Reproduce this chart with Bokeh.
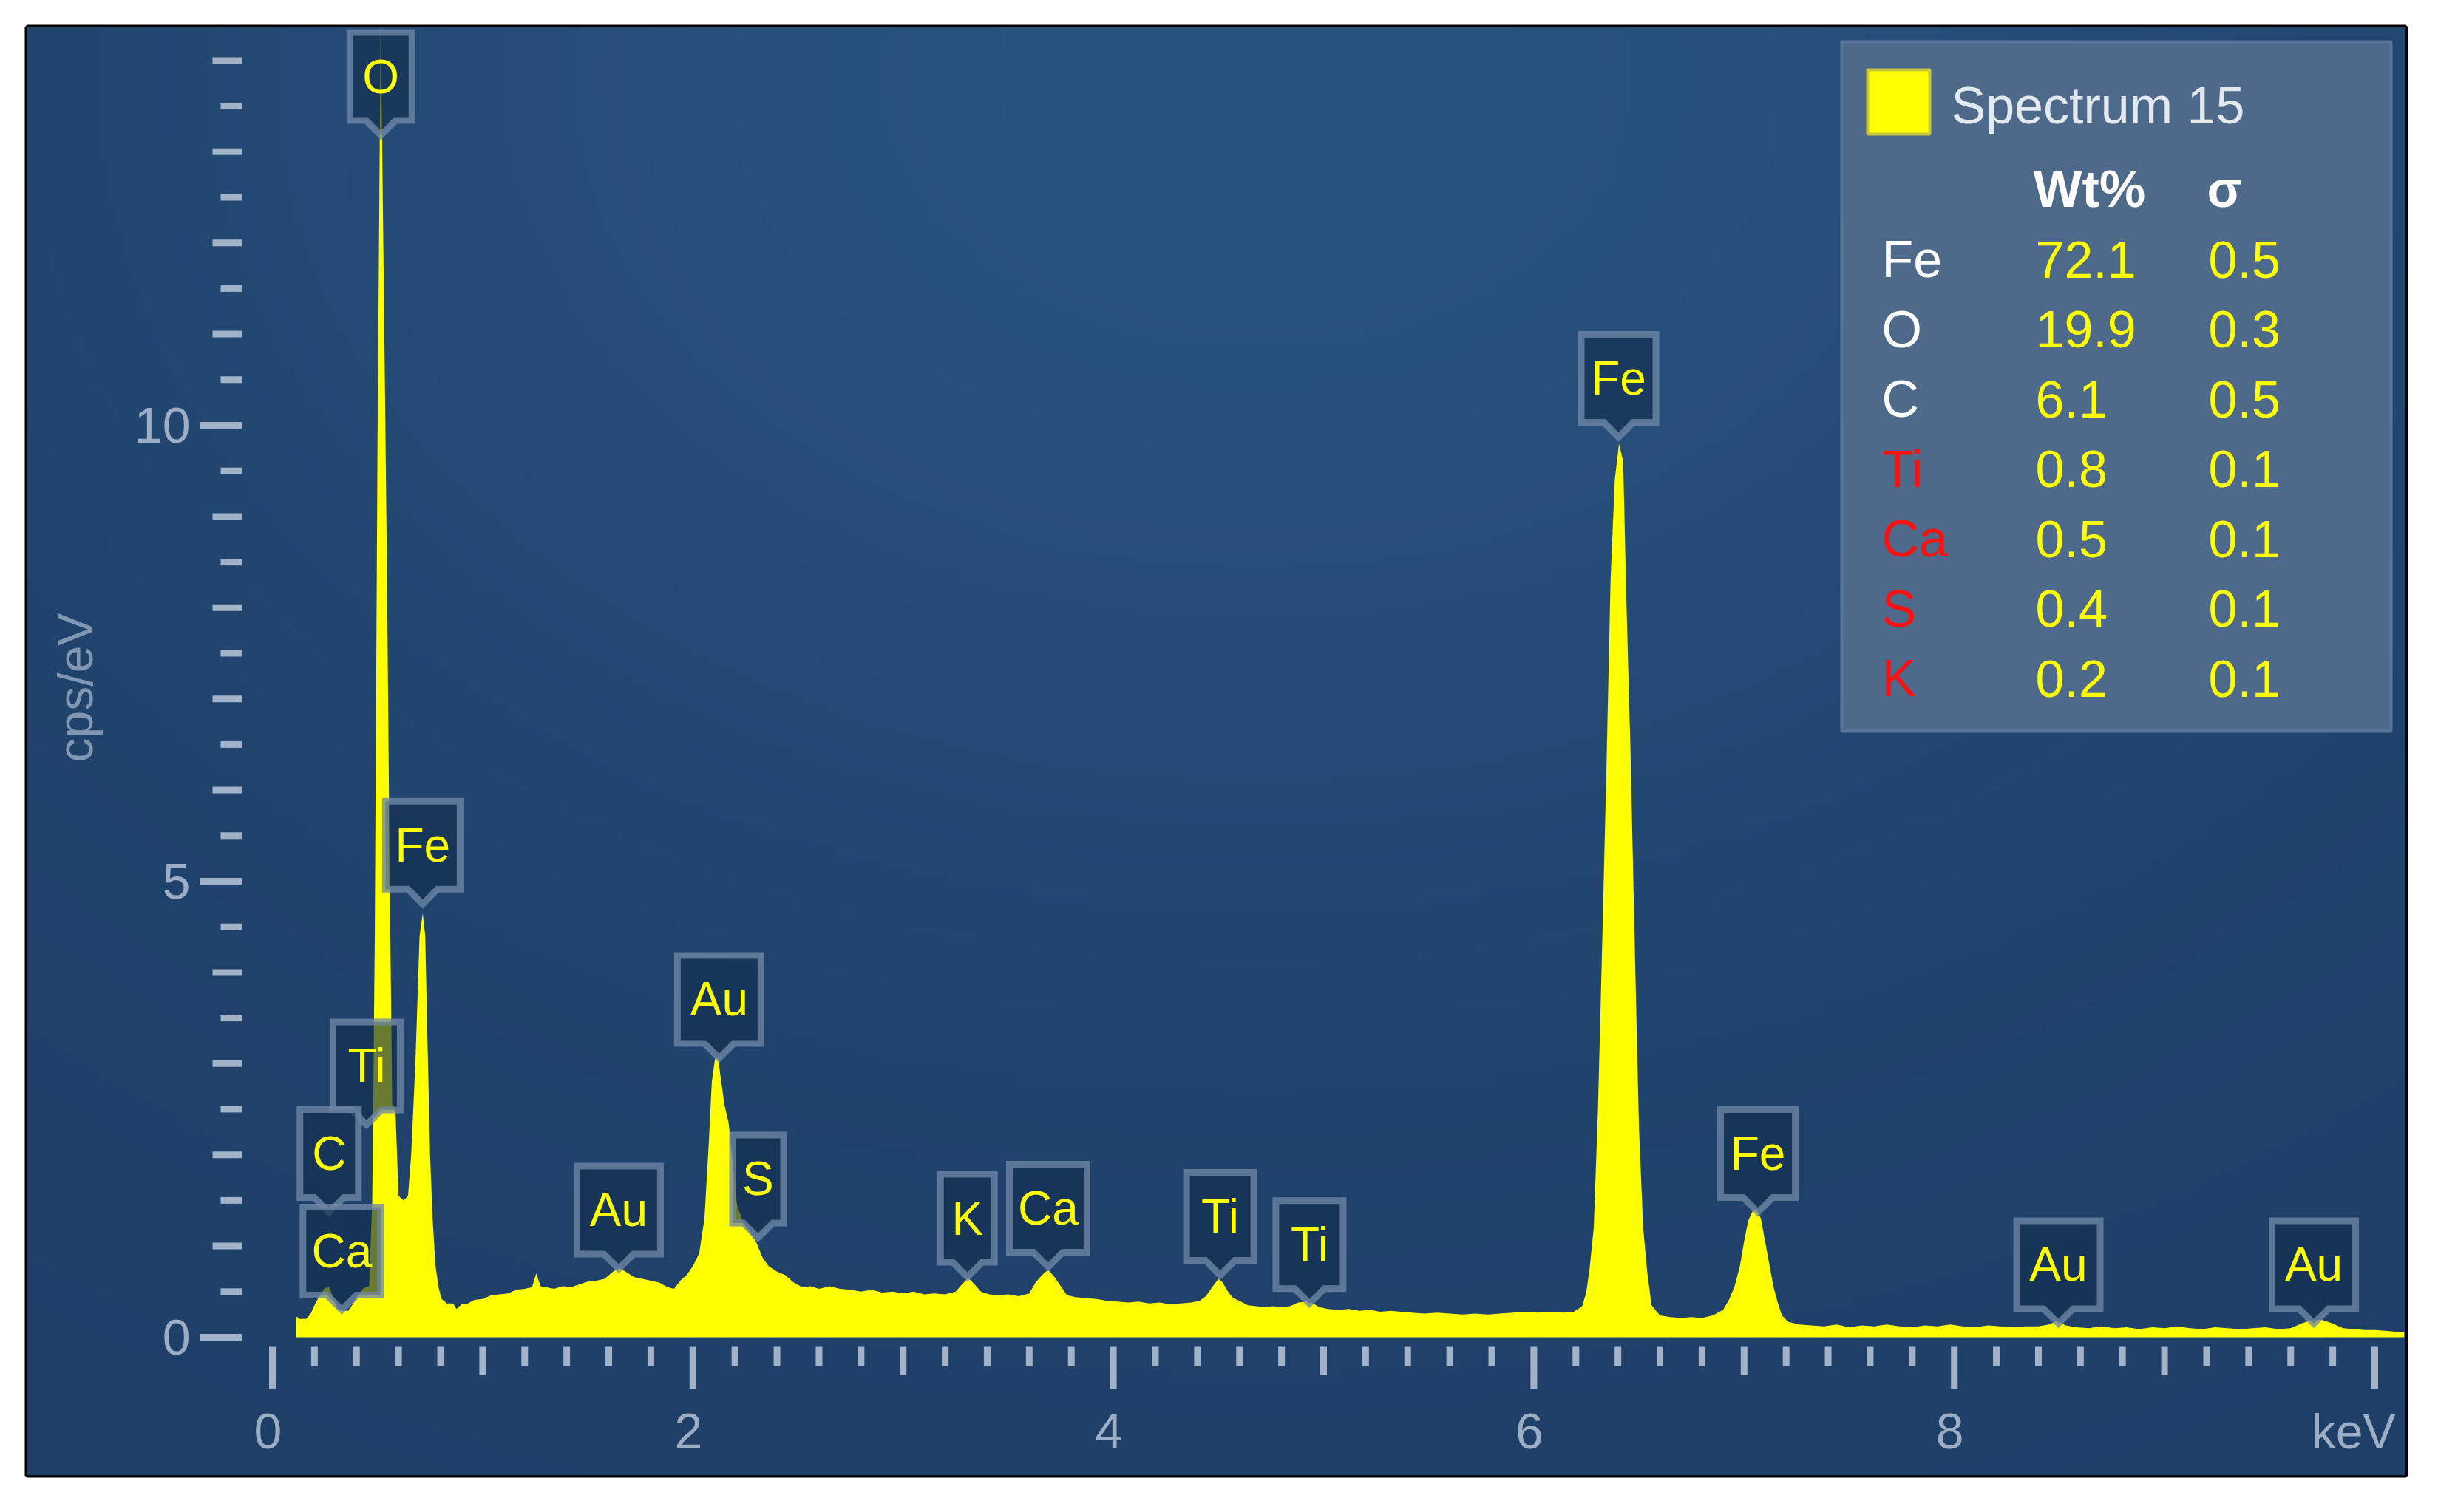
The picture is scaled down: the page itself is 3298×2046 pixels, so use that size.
import numpy as np
from bokeh.plotting import figure
from bokeh.models import Range1d
from bokeh.core.properties import value
from bokeh.embed import file_html
from bokeh.resources import INLINE

# ---------------- data ----------------
ENERGY_KEV = [
    0.112, 0.130, 0.160, 0.180, 0.200, 0.225, 0.250, 0.270, 0.290, 0.310,
    0.335, 0.360, 0.385, 0.410, 0.435, 0.460, 0.475, 0.487, 0.500, 0.515,
    0.530, 0.545, 0.558, 0.570, 0.585, 0.600, 0.625, 0.645, 0.660, 0.680,
    0.700, 0.715, 0.727, 0.738, 0.750, 0.762, 0.775, 0.790, 0.805, 0.830,
    0.860, 0.875, 0.900, 0.930, 0.960, 1.000, 1.040, 1.080, 1.120, 1.160,
    1.200, 1.235, 1.255, 1.275, 1.300, 1.340, 1.380, 1.420, 1.460, 1.500,
    1.540, 1.580, 1.620, 1.650, 1.680, 1.720, 1.760, 1.800, 1.840, 1.880,
    1.910, 1.940, 1.970, 2.000, 2.030, 2.055, 2.075, 2.090, 2.105, 2.120,
    2.135, 2.150, 2.170, 2.190, 2.210, 2.240, 2.270, 2.300, 2.330, 2.360,
    2.400, 2.440, 2.480, 2.520, 2.560, 2.600, 2.650, 2.700, 2.750, 2.800,
    2.850, 2.900, 2.950, 3.000, 3.050, 3.100, 3.150, 3.200, 3.250, 3.280,
    3.310, 3.340, 3.370, 3.410, 3.450, 3.500, 3.550, 3.600, 3.630, 3.660,
    3.690, 3.720, 3.750, 3.780, 3.820, 3.870, 3.920, 3.970, 4.020, 4.070,
    4.120, 4.170, 4.220, 4.270, 4.320, 4.370, 4.410, 4.440, 4.470, 4.500,
    4.520, 4.545, 4.570, 4.600, 4.640, 4.680, 4.720, 4.760, 4.800, 4.840,
    4.880, 4.920, 4.950, 4.980, 5.020, 5.070, 5.120, 5.170, 5.220, 5.270,
    5.320, 5.370, 5.420, 5.480, 5.540, 5.600, 5.660, 5.720, 5.780, 5.840,
    5.900, 5.960, 6.020, 6.080, 6.140, 6.190, 6.230, 6.250, 6.265, 6.285,
    6.305, 6.325, 6.345, 6.365, 6.385, 6.405, 6.425, 6.440, 6.460, 6.480,
    6.500, 6.520, 6.540, 6.560, 6.600, 6.650, 6.700, 6.750, 6.800, 6.850,
    6.900, 6.930, 6.955, 6.980, 7.000, 7.020, 7.040, 7.060, 7.080, 7.100,
    7.120, 7.140, 7.160, 7.180, 7.210, 7.260, 7.320, 7.380, 7.440, 7.500,
    7.560, 7.620, 7.680, 7.740, 7.800, 7.860, 7.920, 7.980, 8.040, 8.100,
    8.160, 8.220, 8.280, 8.340, 8.400, 8.450, 8.490, 8.530, 8.580, 8.640,
    8.700, 8.760, 8.820, 8.880, 8.940, 9.000, 9.060, 9.120, 9.180, 9.240,
    9.300, 9.360, 9.420, 9.480, 9.540, 9.600, 9.650, 9.700, 9.750, 9.800,
    9.850, 9.900, 9.950, 10.000, 10.050, 10.100, 10.140,
]

COUNTS_CPS = [
    0.23, 0.20, 0.20, 0.25, 0.35, 0.46, 0.54, 0.55, 0.43, 0.31,
    0.29, 0.29, 0.37, 0.47, 0.54, 0.56, 1.50, 4.40, 9.80, 14.50,
    11.50, 8.40, 5.00, 2.55, 2.50, 1.55, 1.50, 1.55, 2.00, 3.00,
    4.40, 4.65, 4.40, 3.20, 2.00, 1.30, 0.80, 0.55, 0.42, 0.37,
    0.37, 0.31, 0.36, 0.37, 0.41, 0.42, 0.46, 0.47, 0.48, 0.52,
    0.53, 0.55, 0.70, 0.56, 0.55, 0.53, 0.56, 0.55, 0.58, 0.61,
    0.62, 0.64, 0.72, 0.76, 0.72, 0.66, 0.64, 0.62, 0.60, 0.55,
    0.53, 0.62, 0.68, 0.78, 0.92, 1.30, 2.10, 2.80, 3.05, 3.06,
    2.80, 2.55, 2.35, 1.90, 1.45, 1.25, 1.15, 1.05, 0.88, 0.78,
    0.72, 0.68, 0.60, 0.55, 0.56, 0.53, 0.56, 0.53, 0.52, 0.50,
    0.52, 0.49, 0.50, 0.48, 0.50, 0.47, 0.48, 0.47, 0.50, 0.58,
    0.65, 0.58, 0.50, 0.47, 0.46, 0.47, 0.45, 0.48, 0.60, 0.68,
    0.74, 0.66, 0.56, 0.46, 0.44, 0.43, 0.42, 0.40, 0.39, 0.38,
    0.39, 0.37, 0.38, 0.36, 0.37, 0.38, 0.40, 0.45, 0.55, 0.64,
    0.60, 0.50, 0.43, 0.40, 0.35, 0.34, 0.33, 0.34, 0.33, 0.34,
    0.38, 0.39, 0.37, 0.33, 0.31, 0.30, 0.31, 0.29, 0.30, 0.28,
    0.29, 0.28, 0.27, 0.26, 0.27, 0.26, 0.25, 0.26, 0.25, 0.26,
    0.27, 0.28, 0.27, 0.28, 0.27, 0.28, 0.34, 0.50, 0.75, 1.20,
    2.50, 4.30, 6.20, 8.30, 9.40, 9.80, 9.60, 8.10, 6.40, 4.30,
    2.30, 1.20, 0.70, 0.35, 0.24, 0.22, 0.21, 0.22, 0.21, 0.24,
    0.30, 0.42, 0.56, 0.78, 1.05, 1.28, 1.38, 1.40, 1.30, 1.05,
    0.80, 0.55, 0.38, 0.24, 0.17, 0.14, 0.13, 0.12, 0.14, 0.11,
    0.13, 0.12, 0.14, 0.12, 0.11, 0.13, 0.12, 0.14, 0.12, 0.11,
    0.13, 0.12, 0.11, 0.12, 0.12, 0.14, 0.18, 0.13, 0.11, 0.10,
    0.12, 0.10, 0.11, 0.09, 0.11, 0.10, 0.12, 0.10, 0.09, 0.11,
    0.10, 0.09, 0.10, 0.11, 0.09, 0.10, 0.15, 0.19, 0.19, 0.15,
    0.10, 0.09, 0.08, 0.08, 0.07, 0.06, 0.06,
]

# peak markers: element, energy (keV), height of the pointer tip (cps)
PEAK_ELEMENTS = ["O", "Fe", "Ti", "C", "Ca", "Au", "Au", "S", "K", "Ca",
                 "Ti", "Ti", "Fe", "Fe", "Au", "Au"]
PEAK_ENERGY = [0.516, 0.715, 0.448, 0.270, 0.330, 1.647, 2.125, 2.310, 3.306, 3.690,
               4.508, 4.933, 6.403, 7.066, 8.495, 9.710]
PEAK_TIP_CPS = [13.18, 4.75, 2.33, 1.37, 0.30, 0.75, 3.06, 1.09, 0.66, 0.77,
                0.68, 0.37, 9.87, 1.37, 0.15, 0.15]

SPECTRUM_NAME = "Spectrum 15"
TABLE_HEADER = ["Wt%", "σ"]
TABLE_ELEMENTS = ["Fe", "O", "C", "Ti", "Ca", "S", "K"]
TABLE_WT = ["72.1", "19.9", "6.1", "0.8", "0.5", "0.4", "0.2"]
TABLE_SIGMA = ["0.5", "0.3", "0.5", "0.1", "0.1", "0.1", "0.1"]

X_LABEL_TICKS = [0, 2, 4, 6, 8]
X_TICK_LABELS = ["0", "2", "4", "6", "8"]
Y_LABEL_TICKS = [0, 5, 10]
Y_TICK_LABELS = ["0", "5", "10"]
X_UNIT = "keV"
Y_UNIT = "cps/eV"

# ---------------- styles / layout ----------------
FONT = "Liberation Sans"
YELLOW = "#ffff00"
TICK_COLOR = "#a2b3c9"
LABEL_COLOR = "#9cadc4"
NAME_COLORS = ["#ffffff", "#ffffff", "#ffffff", "#ff1010", "#ff1010", "#ff1010", "#ff1010"]
BOX_WIDTH_PX = {"O": 93, "C": 88, "S": 78, "K": 82, "Ti": 100, "Fe": 110, "Ca": 114, "Au": 122}

X0_PX, PX_PER_KEV = 368.0, 284.4     # pixel of 0 keV, pixels per keV
Y0_PX, PX_PER_CPS = 1809.0, 123.4    # pixel of 0 cps/eV, pixels per cps/eV


def kx(px):
    return (px - X0_PX) / PX_PER_KEV


def cy(py):
    return (Y0_PX - py) / PX_PER_CPS


def dkx(d):
    return d / PX_PER_KEV


def dcy(d):
    return d / PX_PER_CPS


FRAME_L, FRAME_R, FRAME_T, FRAME_B = 36, 3254, 36, 1996
W, H = 3296, 2044

p = figure(width=W, height=H, output_backend="svg", toolbar_location=None, title=None,
           x_range=Range1d(kx(FRAME_L), kx(FRAME_R)),
           y_range=Range1d(cy(FRAME_B), cy(FRAME_T)),
           x_axis_location=None, y_axis_location=None,
           min_border_left=FRAME_L, min_border_top=FRAME_T,
           min_border_right=W - FRAME_R, min_border_bottom=H - FRAME_B)
p.grid.visible = False
p.background_fill_color = "#20426b"
p.border_fill_color = "white"
p.outline_line_color = "black"
p.outline_line_width = 6

# subtle background sheen
ny, nx = 205, 322
gx = np.linspace(FRAME_L, FRAME_R, nx)
gy = np.linspace(FRAME_B, FRAME_T, ny)
GX, GY = np.meshgrid(gx, gy)
t = np.exp(-((GX - 1700.0) / 1600.0) ** 2 - ((GY - 100.0) / 1150.0) ** 2)
base = np.array([30, 63, 104], dtype=float)
light = np.array([41, 84, 128], dtype=float)
img = np.empty((ny, nx), dtype=np.uint32)
view = img.view(dtype=np.uint8).reshape((ny, nx, 4))
for k in range(3):
    view[:, :, k] = np.clip(base[k] + t * (light[k] - base[k]), 0, 255).astype(np.uint8)
view[:, :, 3] = 255
p.image_rgba(image=[img], x=kx(FRAME_L), y=cy(FRAME_B),
             dw=kx(FRAME_R) - kx(FRAME_L), dh=cy(FRAME_T) - cy(FRAME_B))

# spectrum
p.varea(x=ENERGY_KEV, y1=[0.0] * len(ENERGY_KEV), y2=COUNTS_CPS, fill_color=YELLOW)

# y ticks (major every 5, medium every 1, minor every 0.5)
y_ticks = np.round(np.arange(0, 14.01, 0.5), 2)
ytx0, ytx1, yty = [], [], []
for v in y_ticks:
    if abs(v % 5) < 1e-9:
        start = 270
    elif abs(v % 1) < 1e-9:
        start = 287
    else:
        start = 298
    ytx0.append(kx(start)); ytx1.append(kx(327)); yty.append(v)
p.segment(x0=ytx0, y0=yty, x1=ytx1, y1=yty, line_color=TICK_COLOR, line_width=9)

# x ticks (major every 2, medium every 1, minor every 0.2)
x_ticks = np.round(np.arange(0, 10.001, 0.2), 2)
xtx, xty0, xty1 = [], [], []
for v in x_ticks:
    if abs(v % 2) < 1e-9 or abs(v % 2 - 2) < 1e-9:
        end = 1879
    elif abs(v % 1) < 1e-9 or abs(v % 1 - 1) < 1e-9:
        end = 1860
    else:
        end = 1848
    xtx.append(v); xty0.append(cy(1822)); xty1.append(cy(end))
p.segment(x0=xtx, y0=xty0, x1=xtx, y1=xty1, line_color=TICK_COLOR, line_width=9)

# tick labels
p.text(x=[kx(257)] * len(Y_LABEL_TICKS), y=Y_LABEL_TICKS, text=Y_TICK_LABELS,
       text_align="right", text_baseline="middle", text_color=LABEL_COLOR,
       text_font=value(FONT), text_font_size="68px")
p.text(x=[v - dkx(6) for v in X_LABEL_TICKS], y=[cy(1936)] * len(X_LABEL_TICKS),
       text=X_TICK_LABELS, text_align="center", text_baseline="middle",
       text_color=LABEL_COLOR, text_font=value(FONT), text_font_size="68px")
p.text(x=[kx(3240)], y=[cy(1936)], text=[X_UNIT], text_align="right",
       text_baseline="middle", text_color=LABEL_COLOR, text_font=value(FONT),
       text_font_size="66px")
p.text(x=[kx(101)], y=[cy(930)], text=[Y_UNIT], angle=np.pi / 2, text_align="center",
       text_baseline="middle", text_color="#8196b1", text_font=value(FONT),
       text_font_size="66px")

# peak markers (box with a pointer)
PTR_H, BOX_H, PTR_HW, BW = 20, 119, 20, 9
xs_list, ys_list, tx, ty = [], [], [], []
for el, e, tip in zip(PEAK_ELEMENTS, PEAK_ENERGY, PEAK_TIP_CPS):
    hw = dkx((BOX_WIDTH_PX[el] - BW) / 2.0)
    b = tip + dcy(PTR_H)
    top = b + dcy(BOX_H)
    xs_list.append([e - hw, e + hw, e + hw, e + dkx(PTR_HW), e, e - dkx(PTR_HW), e - hw])
    ys_list.append([top, top, b, b, tip, b, b])
    tx.append(e)
    ty.append(b + dcy(BOX_H / 2.0))
p.patches(xs=xs_list, ys=ys_list, fill_color="#112e4e", fill_alpha=0.63,
          line_color="#6f88a6", line_alpha=0.78, line_width=BW, line_join="miter")
p.text(x=tx, y=ty, text=PEAK_ELEMENTS, text_align="center", text_baseline="middle",
       text_color=YELLOW, text_font=value(FONT), text_font_size="64px")

# quantification panel
p.quad(left=[kx(2491)], right=[kx(3234)], top=[cy(56)], bottom=[cy(989)],
       fill_color="#4e6a8b", line_color="#58769a", line_width=4)
p.quad(left=[kx(2526)], right=[kx(2610)], top=[cy(94)], bottom=[cy(181)],
       fill_color=YELLOW, line_color="#c8c83a", line_width=4)
p.text(x=[kx(2639)], y=[cy(142)], text=[SPECTRUM_NAME], text_align="left",
       text_baseline="middle", text_color="#e4e9f0", text_font=value(FONT),
       text_font_size="70px")
p.text(x=[kx(2750), kx(2985)], y=[cy(255), cy(255)], text=TABLE_HEADER,
       text_align="left", text_baseline="middle", text_color="white",
       text_font=value(FONT), text_font_size="70px", text_font_style="bold")
row_y = [cy(350.5 + i * 94.5) for i in range(len(TABLE_ELEMENTS))]
p.text(x=[kx(2545)] * len(TABLE_ELEMENTS), y=row_y, text=TABLE_ELEMENTS,
       text_align="left", text_baseline="middle", text_color=NAME_COLORS,
       text_font=value(FONT), text_font_size="70px")
p.text(x=[kx(2753)] * len(TABLE_WT), y=row_y, text=TABLE_WT,
       text_align="left", text_baseline="middle", text_color=YELLOW,
       text_font=value(FONT), text_font_size="70px")
p.text(x=[kx(2987)] * len(TABLE_SIGMA), y=row_y, text=TABLE_SIGMA,
       text_align="left", text_baseline="middle", text_color=YELLOW,
       text_font=value(FONT), text_font_size="70px")

open("out.html", "w").write(file_html(p, INLINE, "EDS spectrum"))
